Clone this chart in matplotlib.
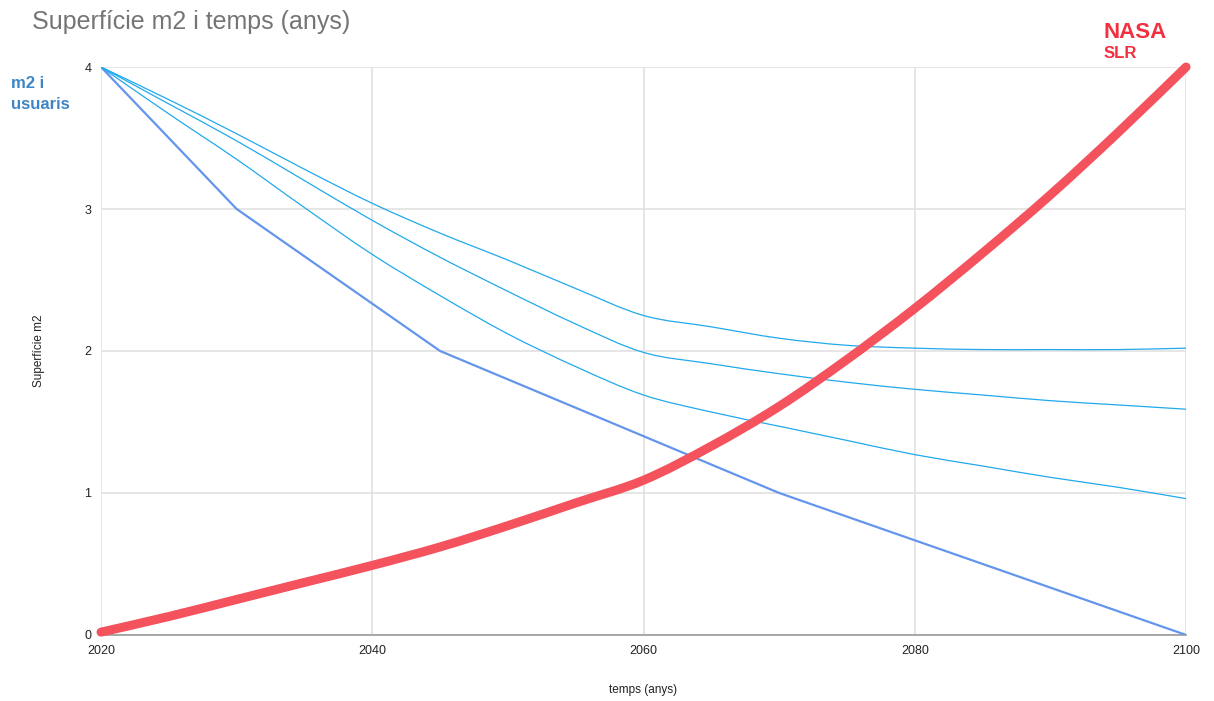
import matplotlib
matplotlib.use('Agg')
import matplotlib.pyplot as plt
from matplotlib.path import Path
from matplotlib.patches import PathPatch

# anys i superfície per usuari (m2)
anys = [2020, 2025, 2030, 2035, 2040, 2045, 2050, 2055, 2060,
        2065, 2070, 2075, 2080, 2085, 2090, 2095, 2100]

# trams lineals
anys_tram = [2020, 2030, 2045, 2070, 2100]
m2_tram = [4, 3, 2, 1, 0]

# corbes d'usuaris
m2_a = [4.0, 3.77, 3.53, 3.28, 3.04, 2.83, 2.64, 2.44, 2.25,
        2.17, 2.09, 2.04, 2.02, 2.01, 2.01, 2.01, 2.02]
m2_b = [4.0, 3.74, 3.48, 3.2, 2.92, 2.66, 2.42, 2.19, 1.99,
        1.91, 1.84, 1.78, 1.73, 1.69, 1.65, 1.62, 1.59]
m2_c = [4.0, 3.67, 3.35, 3.01, 2.68, 2.39, 2.12, 1.89, 1.69,
        1.57, 1.47, 1.37, 1.27, 1.19, 1.11, 1.04, 0.96]

# NASA SLR
slr = [0.02, 0.13, 0.25, 0.37, 0.49, 0.62, 0.77, 0.93, 1.09,
       1.33, 1.61, 1.94, 2.3, 2.69, 3.1, 3.54, 4.0]


def corba(xs, ys):
    # corba suau (Bezier tipus Catmull-Rom) que passa pels punts
    n = len(xs)
    verts = [(xs[0], ys[0])]
    codes = [Path.MOVETO]
    for i in range(n - 1):
        i0, i3 = max(i - 1, 0), min(i + 2, n - 1)
        c1 = (xs[i] + (xs[i + 1] - xs[i0]) / 6, ys[i] + (ys[i + 1] - ys[i0]) / 6)
        c2 = (xs[i + 1] - (xs[i3] - xs[i]) / 6, ys[i + 1] - (ys[i3] - ys[i]) / 6)
        verts += [c1, c2, (xs[i + 1], ys[i + 1])]
        codes += [Path.CURVE4] * 3
    return Path(verts, codes)


plt.rcParams['font.family'] = ['Liberation Sans', 'DejaVu Sans']

fig = plt.figure(figsize=(12.14, 7.01), dpi=100)
ax = fig.add_axes([0.0832, 0.0942, 0.8938, 0.8102])

ax.plot(anys_tram, m2_tram, color='#6495ed', lw=1.6, zorder=3)
for serie in (m2_a, m2_b, m2_c):
    ax.add_patch(PathPatch(corba(anys, serie), fill=False,
                           edgecolor='#21a9ec', lw=0.9, zorder=3))
ax.add_patch(PathPatch(corba(anys, slr), fill=False, edgecolor='#f4535d',
                       lw=6.5, capstyle='round', zorder=4, clip_on=False))

ax.set_xlim(2020, 2100)
ax.set_ylim(0, 4)
ax.set_xticks([2020, 2040, 2060, 2080, 2100])
ax.set_yticks([0, 1, 2, 3, 4])
ax.grid(color='#e2e2e2', lw=1.2)
ax.set_axisbelow(True)
for s in ('top', 'right', 'left'):
    ax.spines[s].set_visible(False)
ax.spines['bottom'].set_color('#9a9a9a')
ax.spines['bottom'].set_linewidth(1.2)
ax.tick_params(length=0, labelsize=9, pad=7, colors='#222222')

ax.set_xlabel('temps (anys)', fontsize=8.5, labelpad=20, color='#222222')
ax.set_ylabel('Superfície m2', fontsize=8.5, labelpad=28, color='#222222')

fig.text(0.026, 0.968, 'Superfície m2 i temps (anys)', fontsize=18,
         color='#757575', va='center')
fig.text(0.009, 0.866, 'm2 i\nusuaris', fontsize=12, fontweight='bold',
         color='#3d85c6', va='center', linespacing=1.45)
fig.text(0.909, 0.953, 'NASA', fontsize=16, fontweight='bold',
         color='#f2303f', va='center')
fig.text(0.909, 0.924, 'SLR', fontsize=12, fontweight='bold',
         color='#f2303f', va='center')

fig.savefig('out.png', dpi=100)
